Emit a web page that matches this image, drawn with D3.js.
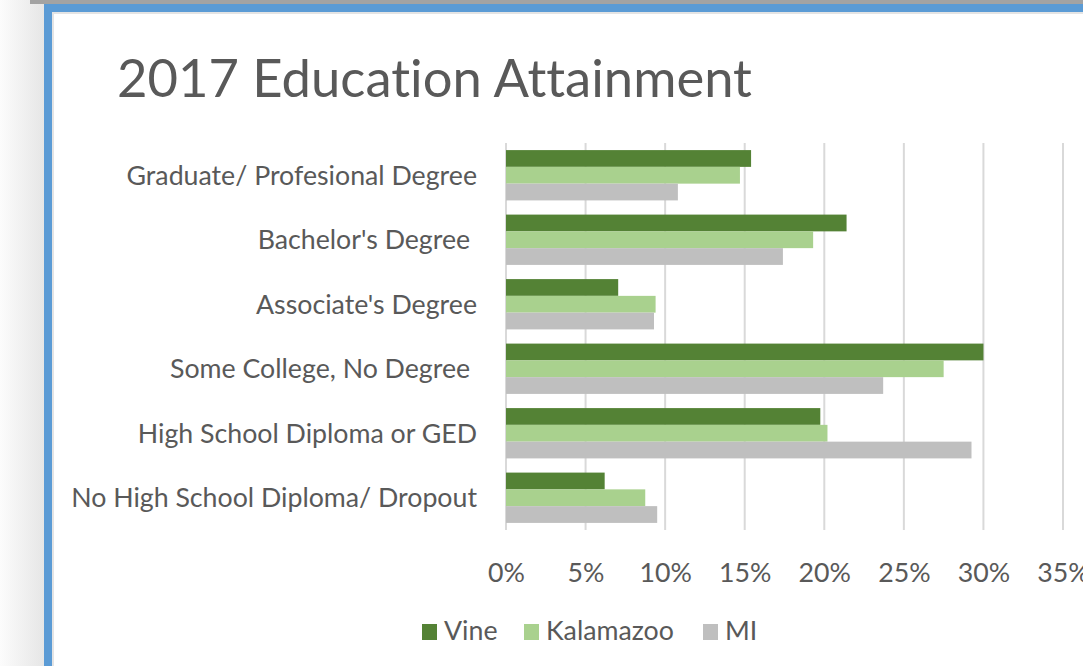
<!DOCTYPE html>
<html>
<head>
<meta charset="utf-8">
<script src="https://cdn.jsdelivr.net/npm/d3@7"></script>
<style>
  body { margin: 0; background: #fff; }
  svg { display: block; font-family: Lato, "Open Sans", sans-serif; }
  text { fill: #595959; white-space: pre; font-variant-ligatures: none; font-feature-settings: "liga" 0, "clig" 0, "dlig" 0; }
</style>
</head>
<body>
<div id="chart"></div>
<script>
// data (percent of population)
const categories = [
  "Graduate/ Profesional Degree",
  "Bachelor's Degree ",
  "Associate's Degree",
  "Some College, No Degree ",
  "High School Diploma or GED",
  "No High School Diploma/ Dropout"
];
const seriesNames = ["Vine", "Kalamazoo", "MI"];
const vine = [15.4, 21.4, 7.05, 30.0, 19.75, 6.2];
const kalamazoo = [14.7, 19.3, 9.4, 27.5, 20.2, 8.75];
const mi = [10.8, 17.4, 9.3, 23.7, 29.25, 9.5];
const ticks = [0, 5, 10, 15, 20, 25, 30, 35];

const colors = { Vine: '#548235', Kalamazoo: '#a9d18e', MI: '#bfbfbf' };
const width = 1083, height = 666;

const data = categories.map((c, i) => ({
  category: c, Vine: vine[i], Kalamazoo: kalamazoo[i], MI: mi[i]
}));

const svg = d3.select('#chart')
  .append('svg')
  .attr('width', width)
  .attr('height', height);

// window frame around the chart (screenshot edge)
const defs = svg.append('defs');
const lg = defs.append('linearGradient').attr('id', 'side').attr('x1', 0).attr('x2', 1);
lg.append('stop').attr('offset', 0).attr('stop-color', '#fcfcfc');
lg.append('stop').attr('offset', 1).attr('stop-color', '#e6e6e6');
svg.append('rect').attr('x', 0).attr('y', 0).attr('width', 44).attr('height', height).attr('fill', 'url(#side)');
svg.append('rect').attr('x', 30).attr('y', 0).attr('width', width - 30).attr('height', 4).attr('fill', '#a3a3a3');
svg.append('rect').attr('x', 44).attr('y', 4).attr('width', width - 44).attr('height', 8).attr('fill', '#5b9bd5');
svg.append('rect').attr('x', 44).attr('y', 4).attr('width', 8).attr('height', height - 4).attr('fill', '#5b9bd5');
svg.append('rect').attr('x', 52).attr('y', 12).attr('width', width - 52).attr('height', 2).attr('fill', '#e4e4e4');
svg.append('rect').attr('x', 52).attr('y', 12).attr('width', 2).attr('height', height - 12).attr('fill', '#e4e4e4');

// helper: pick a font size so a text spans the wanted width
function fitSize(str, target, base) {
  const t = svg.append('text').attr('font-size', base).text(str);
  const w = t.node().getComputedTextLength();
  t.remove();
  return base * target / w;
}

// Title
const titleSize = fitSize('2017 Education Attainment', 635, 50);
svg.append('text')
  .attr('x', 117)
  .attr('y', 97)
  .attr('font-size', titleSize)
  .text('2017 Education Attainment');

// Scales
const x = d3.scaleLinear().domain([0, 35]).range([506, 1063]);
const y = d3.scaleBand().domain(categories).range([143, 530])
  .paddingInner(0.22).paddingOuter(0.11);
const ySub = d3.scaleBand().domain(seriesNames).range([0, y.bandwidth()]);

// Gridlines
svg.append('g')
  .selectAll('line')
  .data(ticks)
  .join('line')
  .attr('x1', d => x(d)).attr('x2', d => x(d))
  .attr('y1', 143).attr('y2', 530)
  .attr('stroke', '#d9d9d9')
  .attr('stroke-width', 2);

// Bars
const groups = svg.append('g')
  .selectAll('g')
  .data(data)
  .join('g')
  .attr('transform', d => `translate(0,${y(d.category)})`);

groups.selectAll('rect')
  .data(d => seriesNames.map(k => ({ key: k, value: d[k] })))
  .join('rect')
  .attr('x', x(0))
  .attr('y', d => ySub(d.key))
  .attr('width', d => x(d.value) - x(0))
  .attr('height', ySub.bandwidth())
  .attr('fill', d => colors[d.key]);

// Category labels
const labelSize = fitSize('No High School Diploma/ Dropout', 406, 20);
svg.append('g')
  .selectAll('text')
  .data(categories)
  .join('text')
  .attr('x', 477)
  .attr('y', d => y(d) + y.bandwidth() / 2)
  .attr('dy', '0.35em')
  .attr('text-anchor', 'end')
  .attr('font-size', labelSize)
  .text(d => d);

// X axis labels
const xAxis = d3.axisBottom(x)
  .tickValues(ticks)
  .tickSize(0)
  .tickFormat(d => d + '%');

const gx = svg.append('g')
  .attr('transform', 'translate(0,530)')
  .call(xAxis);
gx.select('.domain').remove();
gx.selectAll('text')
  .attr('dy', null)
  .attr('y', 52)
  .attr('font-size', labelSize)
  .attr('font-family', 'Lato, sans-serif')
  .attr('fill', '#595959');

// Legend
const legendX = [422, 524, 703];
const legend = svg.append('g')
  .selectAll('g')
  .data(seriesNames)
  .join('g')
  .attr('transform', (d, i) => `translate(${legendX[i]},624)`);

legend.append('rect')
  .attr('width', 15)
  .attr('height', 16)
  .attr('fill', d => colors[d]);

legend.append('text')
  .attr('x', 22)
  .attr('y', 16)
  .attr('font-size', labelSize)
  .text(d => d);
</script>
</body>
</html>
